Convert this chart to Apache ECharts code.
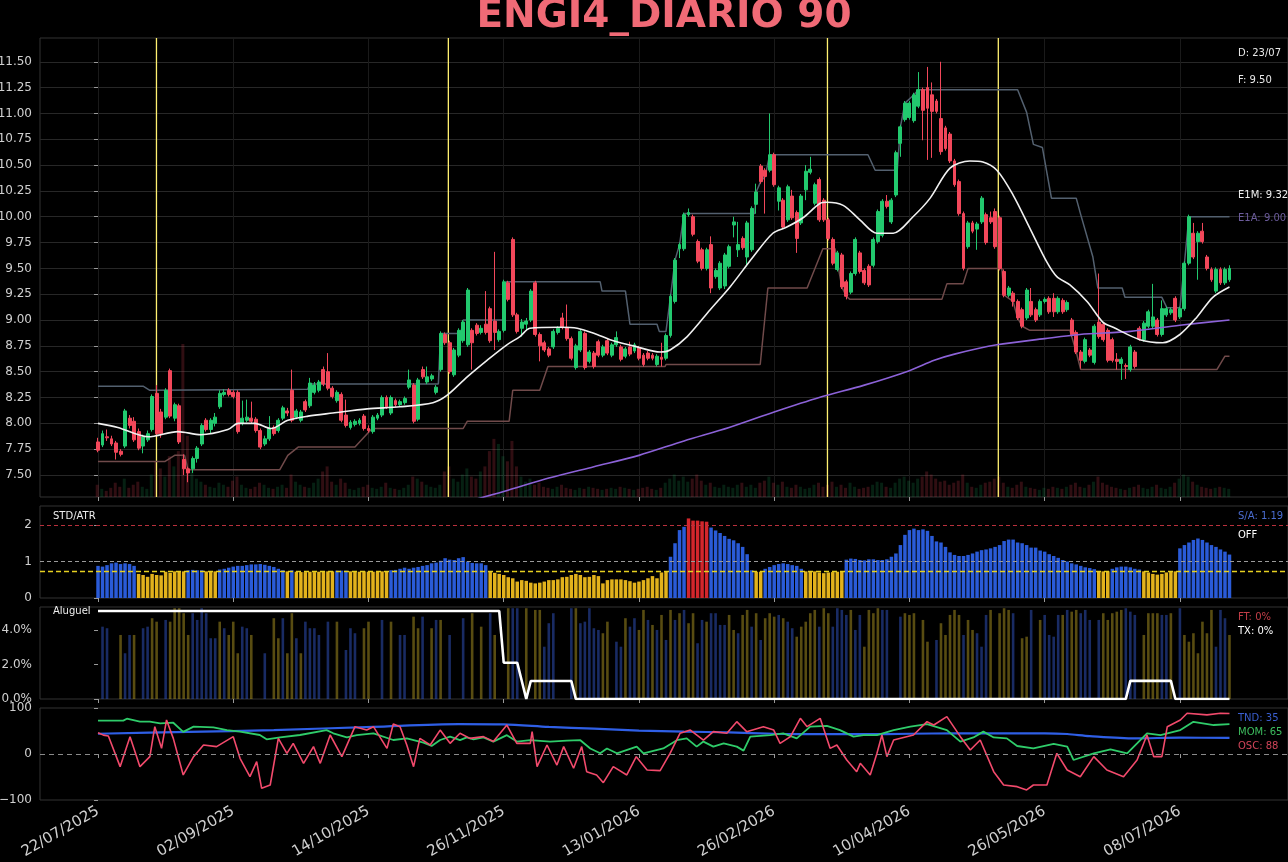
<!DOCTYPE html>
<html><head><meta charset="utf-8">
<script src="https://cdn.jsdelivr.net/npm/echarts@6/dist/echarts.min.js"></script>
<style>html,body{margin:0;padding:0;background:#000;}#c{width:1288px;height:862px;}</style>
</head><body><div id="c"></div>
<script>
// ---------- DATA ----------
const tickIdx = [0,30,60,90,120,150,180,210,240];
const tickLabels = ['22/07/2025','02/09/2025','14/10/2025','26/11/2025','13/01/2026','26/02/2026','10/04/2026','26/05/2026','08/07/2026'];
const priceTicks = [7.5,7.75,8.0,8.25,8.5,8.75,9.0,9.25,9.5,9.75,10.0,10.25,10.5,10.75,11.0,11.25,11.5];
const stdTicks = [0,1,2];
const rentTicks = [0,2,4];
const oscTicks = [-100,0,100];

// [open, close, low, high]
const ohlc = [
[7.82,7.74,7.72,7.86],[7.79,7.90,7.77,7.93],[7.87,7.86,7.83,7.94],[7.85,7.80,7.78,7.88],[7.81,7.72,7.65,7.83],[7.73,7.70,7.68,7.75],[7.78,8.12,7.76,8.14],[8.05,7.98,7.95,8.08],[8.02,7.84,7.82,8.06],[7.92,7.76,7.74,7.95],
[7.78,7.87,7.71,7.89],[7.84,7.90,7.82,7.93],[7.94,8.26,7.92,8.28],[8.29,7.90,7.88,8.37],[8.11,7.90,7.86,8.14],[8.06,8.32,8.04,8.34],[8.51,8.07,8.05,8.53],[8.05,8.18,8.02,8.20],[8.17,7.82,7.80,8.19],[7.65,7.56,7.50,7.70],
[7.56,7.52,7.43,7.58],[7.56,7.66,7.52,7.68],[7.66,7.76,7.62,7.78],[7.80,7.98,7.78,8.00],[8.03,7.94,7.92,8.05],[7.94,8.03,7.90,8.05],[8.00,8.06,7.97,8.10],[8.16,8.29,8.14,8.32],[8.28,8.30,8.26,8.33],[8.32,8.28,8.26,8.34],
[8.30,8.26,8.24,8.32],[8.30,7.92,7.90,8.32],[8.00,8.05,7.98,8.22],[8.03,8.06,8.01,8.23],[8.05,8.02,8.00,8.21],[8.04,7.93,7.91,8.06],[7.93,7.77,7.75,7.95],[7.80,7.85,7.78,7.88],[7.85,7.95,7.83,8.07],[7.96,7.90,7.88,7.98],
[7.93,8.03,7.91,8.05],[8.05,8.15,8.03,8.17],[8.12,8.10,8.07,8.15],[8.32,8.03,8.01,8.52],[8.06,8.12,8.04,8.14],[8.03,8.11,8.01,8.13],[8.21,8.13,8.11,8.23],[8.17,8.39,8.15,8.44],[8.30,8.37,8.28,8.40],[8.32,8.40,8.30,8.42],
[8.52,8.38,8.36,8.55],[8.50,8.34,8.32,8.68],[8.34,8.26,8.24,8.36],[8.22,8.30,8.20,8.32],[8.28,8.03,8.01,8.30],[8.08,7.98,7.96,8.23],[7.96,8.01,7.94,8.03],[7.99,8.02,7.97,8.04],[8.00,8.03,7.98,8.05],[8.07,7.95,7.93,8.09],
[7.95,7.93,7.91,7.98],[7.92,8.06,7.90,8.08],[8.05,8.08,8.03,8.10],[8.08,8.25,8.06,8.27],[8.25,8.16,8.14,8.27],[8.10,8.25,8.08,8.27],[8.22,8.18,8.16,8.24],[8.18,8.21,8.16,8.23],[8.20,8.24,8.18,8.26],[8.35,8.42,8.33,8.52],
[8.37,8.02,8.00,8.39],[8.04,8.42,8.02,8.44],[8.52,8.45,8.43,8.55],[8.40,8.45,8.38,8.55],[8.43,8.46,8.41,8.48],[8.30,8.35,8.28,8.37],[8.52,8.87,8.50,8.89],[8.86,8.78,8.76,8.88],[8.78,8.50,8.48,8.80],[8.47,8.71,8.45,8.73],
[8.66,8.90,8.64,8.92],[8.80,8.98,8.78,9.00],[8.76,9.29,8.74,9.31],[8.90,8.78,8.52,8.92],[8.95,8.87,8.85,8.97],[8.88,8.92,8.86,8.95],[8.96,8.88,8.86,9.28],[9.11,8.80,8.78,9.13],[8.99,8.88,8.71,9.66],[8.81,8.89,8.79,8.91],
[8.90,9.37,8.88,9.39],[9.36,9.20,9.18,9.38],[9.78,9.05,9.03,9.80],[9.05,8.89,8.87,9.07],[8.92,8.98,8.84,9.01],[8.96,8.99,8.90,9.02],[9.00,9.28,8.98,9.30],[9.36,8.86,8.84,9.38],[8.86,8.75,8.60,8.88],[8.78,8.71,8.69,8.80],
[8.72,8.66,8.64,8.74],[8.74,8.89,8.72,8.91],[8.88,8.92,8.86,8.94],[9.02,8.93,8.91,9.07],[8.93,8.82,8.80,9.15],[8.82,8.63,8.61,8.84],[8.54,8.75,8.52,8.77],[8.71,8.89,8.69,8.91],[8.87,8.54,8.52,8.89],[8.60,8.69,8.58,8.71],
[8.68,8.55,8.53,8.70],[8.79,8.66,8.64,8.81],[8.66,8.74,8.64,8.76],[8.80,8.68,8.66,8.82],[8.66,8.76,8.64,8.78],[8.76,8.83,8.74,8.89],[8.74,8.62,8.60,8.76],[8.65,8.72,8.63,8.74],[8.74,8.67,8.65,8.79],[8.70,8.76,8.68,8.78],
[8.73,8.63,8.61,8.75],[8.66,8.57,8.55,8.68],[8.68,8.63,8.61,8.70],[8.66,8.63,8.61,8.68],[8.57,8.65,8.55,8.67],[8.64,8.62,8.55,8.78],[8.63,8.85,8.61,8.87],[8.85,9.23,8.83,9.25],[9.18,9.58,9.16,9.60],[9.69,9.73,9.60,9.75],
[9.69,10.02,9.67,10.04],[10.02,10.04,10.00,10.08],[10.00,9.83,9.81,10.02],[9.76,9.57,9.55,9.78],[9.68,9.50,9.48,9.70],[9.50,9.68,9.48,9.70],[9.73,9.31,9.26,9.81],[9.42,9.48,9.40,9.50],[9.31,9.55,9.29,9.57],[9.33,9.63,9.30,9.65],
[9.52,9.71,9.50,9.73],[9.92,9.95,9.80,10.00],[9.68,9.73,9.61,9.95],[9.79,9.70,9.68,9.81],[9.61,9.94,9.52,9.96],[9.68,10.08,9.66,10.10],[10.12,10.24,10.03,10.32],[10.49,10.34,10.32,10.51],[10.45,10.39,10.03,10.47],[10.45,10.60,10.43,11.00],
[10.60,10.31,10.29,10.62],[10.15,10.28,10.06,10.30],[10.16,9.90,9.88,10.18],[9.97,10.29,9.95,10.31],[10.20,9.99,9.97,10.26],[10.04,9.79,9.65,10.06],[9.94,10.20,9.92,10.22],[10.26,10.44,10.16,10.50],[10.43,10.46,10.41,10.58],[10.13,10.31,10.11,10.33],
[10.36,9.97,9.95,10.38],[10.16,9.97,9.95,10.18],[9.97,9.79,9.77,9.99],[9.78,9.55,9.53,9.80],[9.49,9.65,9.47,9.67],[9.63,9.32,9.30,9.65],[9.37,9.23,9.20,9.39],[9.27,9.45,9.25,9.47],[9.45,9.78,9.43,9.80],[9.65,9.47,9.45,9.67],
[9.48,9.36,9.34,9.50],[9.52,9.34,9.32,9.54],[9.53,9.78,9.51,9.80],[9.76,10.05,9.74,10.07],[9.82,10.15,9.80,10.17],[10.15,10.10,10.08,10.21],[9.95,10.16,9.93,10.18],[10.21,10.62,10.19,10.64],[10.71,10.87,10.58,10.89],[10.94,11.10,10.92,11.12],
[10.96,11.10,10.94,11.12],[10.93,11.18,10.91,11.20],[11.07,11.23,11.05,11.40],[11.23,11.03,10.74,11.25],[11.25,11.05,10.55,11.45],[11.18,11.02,10.57,11.30],[11.12,11.02,11.00,11.14],[10.95,10.63,10.60,11.50],[10.86,10.66,10.64,10.88],[10.80,10.54,10.52,10.82],
[10.54,10.31,10.29,10.56],[10.34,10.03,10.01,10.36],[10.03,9.50,9.48,10.05],[9.71,9.94,9.69,9.96],[9.94,9.86,9.84,9.96],[9.88,9.93,9.68,9.95],[9.95,10.18,9.93,10.20],[10.02,9.75,9.73,10.04],[9.99,9.95,9.93,10.05],[10.05,9.71,9.69,10.08],
[9.99,9.50,9.48,10.01],[9.47,9.24,9.22,9.49],[9.24,9.31,9.22,9.33],[9.26,9.18,9.13,9.28],[9.18,9.02,9.00,9.20],[9.10,8.94,8.92,9.12],[9.02,9.29,9.00,9.31],[9.18,9.05,9.03,9.31],[9.10,9.00,8.98,9.12],[9.05,9.18,9.03,9.20],
[9.18,9.20,9.16,9.22],[9.21,9.08,9.06,9.23],[9.21,9.08,9.03,9.26],[9.08,9.21,9.06,9.23],[9.19,9.08,9.06,9.21],[9.10,9.17,9.08,9.19],[9.00,8.86,8.84,9.02],[8.88,8.69,8.67,8.90],[8.69,8.61,8.53,8.71],[8.60,8.81,8.58,8.83],
[8.71,8.66,8.64,8.73],[8.59,8.94,8.57,8.96],[8.98,8.84,8.82,9.45],[8.96,8.81,8.79,8.98],[8.90,8.61,8.59,8.92],[8.81,8.61,8.59,8.83],[8.62,8.60,8.52,8.68],[8.58,8.62,8.42,8.64],[8.56,8.55,8.43,8.58],[8.52,8.74,8.50,8.76],
[8.69,8.55,8.53,8.71],[8.92,8.82,8.80,8.94],[8.81,8.97,8.79,8.99],[8.94,9.08,8.92,9.10],[8.94,9.03,8.92,9.35],[9.00,8.86,8.84,9.02],[8.86,9.11,8.84,9.19],[9.05,9.11,9.03,9.13],[9.07,9.10,9.05,9.12],[9.21,9.00,8.98,9.23],
[9.03,9.11,9.01,9.13],[9.11,9.55,9.09,9.57],[9.55,10.00,9.53,10.02],[9.84,9.61,9.59,9.94],[9.76,9.84,9.39,9.86],[9.86,9.76,9.74,9.94],[9.61,9.50,9.48,9.63],[9.49,9.39,9.37,9.51],[9.28,9.49,9.26,9.51],[9.49,9.36,9.34,9.51],
[9.36,9.49,9.34,9.51],[9.39,9.50,9.37,9.53]
];

const volume = [
12,8,6,9,14,10,18,9,12,15, 10,8,22,35,28,20,40,30,45,150,
60,25,18,15,12,10,9,14,12,10, 16,20,12,9,8,10,14,12,9,8,
10,12,9,22,15,12,10,9,14,18, 25,30,15,12,18,14,8,7,9,10,
12,9,8,10,14,9,8,7,9,12, 20,18,15,12,10,9,12,25,30,18,
15,22,28,20,18,25,30,45,57,52, 40,35,55,30,20,15,18,12,14,10,
9,8,10,12,9,8,7,9,8,10, 9,8,7,8,9,8,10,9,8,7,
8,9,10,8,7,9,14,18,22,16, 20,15,18,22,16,12,14,10,9,12,
10,9,12,14,10,12,9,14,16,20, 14,12,15,10,9,12,10,8,9,12,
14,10,12,15,10,12,9,14,10,8, 9,10,12,15,14,10,9,14,18,20,
16,14,18,20,25,22,18,15,16,12, 14,16,22,14,10,9,12,14,15,18,
20,14,10,9,12,15,10,9,8,7, 9,8,10,9,8,10,12,14,10,9,
12,15,20,14,12,10,9,8,7,9, 10,12,9,8,10,12,9,8,10,14,
18,22,20,15,12,10,9,8,9,10, 9,8
];

// [index, value]
const e1m = [[0,8.00],[4.4,7.96],[11.1,7.87],[17.7,7.92],[22.8,7.89],[28.8,7.94],[31.1,8.00],[34.8,8.00],[38.4,7.95],[42.1,8.03],[46.6,8.07],[52.1,8.10],[59.7,8.14],[67,8.16],[74.3,8.20],[77.4,8.27],[81.9,8.45],[86.3,8.61],[90.7,8.76],[93.6,8.84],[95.8,8.92],[102.5,8.93],[106.3,8.92],[110.7,8.86],[113.6,8.81],[119.6,8.74],[124.7,8.69],[126.9,8.71],[130.7,8.84],[135.8,9.10],[140.2,9.32],[145.3,9.61],[149.7,9.84],[152.8,9.90],[156.4,9.99],[160.2,10.13],[161.7,10.14],[165.3,10.11],[169,9.97],[172.8,9.84],[176.4,9.84],[180.8,10.00],[184.6,10.18],[189,10.47],[193.4,10.54],[196.3,10.53],[199.4,10.45],[203,10.21],[206.7,9.89],[210.5,9.56],[212.7,9.42],[215.6,9.34],[219.4,9.18],[222.9,8.98],[225.2,8.93],[231.1,8.81],[236.2,8.78],[240,8.86],[243.8,9.03],[247.3,9.22],[251,9.32]];
const e1a = [[80,7.22],[90,7.34],[100,7.47],[110,7.58],[120,7.69],[130,7.83],[140,7.96],[150,8.11],[160,8.25],[170,8.37],[180,8.51],[185.5,8.61],[190,8.67],[199.4,8.76],[210,8.82],[217.8,8.86],[229,8.89],[240,8.95],[251,9.00]];
const upperCh = [[0,8.36],[10,8.36],[11.5,8.32],[46.5,8.33],[47,8.38],[75.5,8.38],[76,8.87],[80.5,8.87],[81,9.0],[90,9.0],[90.6,9.37],[111.4,9.37],[111.8,9.28],[117,9.28],[118,8.96],[124,8.96],[124.5,8.89],[126,8.89],[127,9.23],[128,9.58],[129,9.73],[130,10.03],[145.7,10.03],[146,10.24],[147,10.34],[148,10.39],[149,10.60],[170.8,10.60],[172.4,10.45],[177.3,10.45],[178,10.87],[179,11.10],[181,11.18],[182,11.23],[204,11.23],[206,11.01],[207.5,10.70],[209.5,10.67],[211.5,10.18],[217,10.18],[218,10.02],[220.7,9.61],[221.8,9.31],[227.2,9.31],[227.8,9.22],[236,9.22],[237.1,9.12],[240,9.12],[241,9.55],[242,10.00],[251,10.00]];
const lowerCh = [[0,7.63],[14.8,7.63],[17,7.69],[19.2,7.69],[20,7.55],[40.3,7.55],[42.1,7.69],[44.4,7.77],[57,7.77],[60.8,7.95],[81,7.95],[81.9,8.02],[91.2,8.02],[92,8.32],[98,8.32],[99.8,8.55],[125.8,8.55],[126,8.57],[146.9,8.57],[148.6,9.31],[157.3,9.31],[160.8,9.69],[163.5,9.69],[165,9.32],[166,9.23],[166.8,9.20],[187.2,9.20],[188.3,9.35],[191.9,9.35],[193,9.50],[200.5,9.50],[201,9.24],[203,9.18],[204,9.02],[205,8.94],[206.7,8.90],[215.6,8.90],[217,8.69],[218,8.52],[248.2,8.52],[250,8.65],[251,8.65]];
const eventLines = [12.6, 77.35, 161.45, 199.35];

const stdAtr = [
0.88,0.86,0.90,0.95,0.97,0.93,0.95,0.93,0.88,
0.66,0.63,0.58,0.66,0.63,0.62,0.72,0.69,0.73,0.73,0.73,
0.76,0.77,0.76,0.76,
0.73,0.73,0.73,
0.78,0.80,0.83,0.86,0.88,0.88,0.90,0.92,0.92,0.93,0.91,0.88,0.85,0.80,0.76,
0.73,0.76,
0.72,0.71,0.71,0.72,0.71,0.72,0.73,0.73,0.73,
0.75,0.75,0.75,
0.73,0.72,0.72,0.73,0.72,0.72,0.72,0.73,0.73,
0.76,0.77,0.80,0.83,0.80,0.83,0.85,0.88,0.90,0.95,0.97,1.02,1.09,1.05,1.04,1.09,1.12,1.00,0.96,0.95,0.95,0.90,
0.72,0.69,0.66,0.63,0.57,0.54,0.45,0.49,0.47,0.42,0.40,0.42,0.45,0.49,0.49,0.51,0.57,0.58,0.63,0.66,0.63,0.57,0.58,0.63,0.60,0.40,0.49,0.51,0.51,0.51,0.49,0.46,0.42,0.45,0.49,0.54,0.60,0.54,0.70,0.72,
1.13,1.50,1.86,1.95,
2.18,2.12,2.12,2.10,2.09,
1.93,1.85,1.78,1.70,1.62,1.58,1.50,1.40,1.20,0.76,
0.72,0.72,
0.80,0.85,0.90,0.93,0.95,0.93,0.90,0.88,0.80,
0.73,0.72,0.73,0.70,0.68,0.70,0.71,0.72,0.73,
1.05,1.08,1.07,1.04,1.03,1.06,1.06,1.04,1.04,1.06,1.13,1.22,1.45,1.73,1.86,1.90,1.86,1.88,1.84,1.70,1.55,1.52,1.40,1.25,1.18,1.15,1.15,1.18,1.22,1.27,1.31,1.33,1.36,1.40,1.45,1.56,1.60,1.60,1.52,1.50,1.45,1.38,1.38,1.30,1.27,1.20,1.15,1.10,1.04,1.00,0.95,0.92,0.88,0.84,0.82,0.79,
0.73,0.73,0.73,
0.80,0.84,0.86,0.86,0.84,0.80,0.78,
0.73,0.70,0.66,0.64,0.66,0.70,0.73,0.73,
1.36,1.45,1.52,1.59,1.63,1.59,1.52,1.45,1.40,1.33,1.27,1.19
];
// colour class of each STD/ATR bar, as runs: [class, count]
const stdClassRuns = [['B',9],['Y',11],['B',4],['Y',3],['B',15],['Y',1],['B',1],['Y',9],['B',3],['Y',9],['B',22],['Y',40],['B',4],['R',5],['B',10],['Y',2],['B',9],['Y',9],['B',56],['Y',3],['B',7],['Y',8],['B',12]];

const rentVals = [
0,4.19,4.10,0,0,3.71,2.65,3.71,3.71,0, 4.10,4.19,4.68,4.48,0,4.58,4.48,5.26,5.26,4.97,
3.71,4.97,4.58,5.26,4.97,3.52,3.52,4.48,4.10,3.71, 4.48,2.65,4.19,4.10,3.71,0,0,2.65,0,4.68,
3.52,4.68,2.65,4.97,3.52,2.65,4.48,4.10,4.10,3.71, 0,4.48,0,4.48,0,2.84,4.10,3.81,0,4.10,
4.48,0,0,4.58,0,4.48,0,3.71,3.71,0, 4.77,4.10,4.77,0,4.10,4.58,4.58,0,3.71,0,
0,4.68,0,4.97,0,4.19,0,4.97,3.71,0, 0,5.26,5.26,5.26,0,5.26,0,5.16,5.16,3.03,
4.39,4.97,0,0,0,5.26,5.26,4.39,4.48,5.26, 4.10,4.00,3.81,4.48,0,3.32,3.03,4.68,4.19,4.68,
4.00,5.16,4.58,4.29,4.00,4.87,3.42,5.16,4.58,4.97, 5.16,4.39,4.97,3.23,4.58,4.48,4.97,4.97,4.29,4.29,
4.87,4.00,3.81,4.87,5.16,4.19,4.97,3.42,4.68,4.97, 4.77,4.87,4.68,4.48,4.10,3.61,4.19,4.48,4.97,5.16,
4.19,5.26,4.97,4.19,5.26,5.16,4.87,5.16,4.00,4.87, 3.03,5.16,4.97,5.26,5.16,5.16,0,0,4.77,4.97,
4.87,4.97,0,4.58,3.32,0,3.42,4.39,3.71,4.87, 5.16,4.87,3.71,4.58,4.00,3.81,3.03,4.87,5.16,0,
4.97,5.26,5.16,4.97,0,3.52,3.61,5.16,0,4.58, 4.87,3.71,3.61,4.87,4.87,5.16,5.06,5.16,4.97,5.16,
4.58,0,4.58,4.97,4.58,4.97,5.06,5.16,5.26,5.06, 4.87,0,3.71,4.97,4.97,4.97,4.87,4.87,4.97,0,
5.26,3.71,3.32,3.81,2.65,4.48,3.81,5.16,3.03,5.16, 4.68,3.71
];
const rentClass = "-bb--ybby-bbyy-byyyyybbbbbbybyyybby--b-yybyybybbbb-b-y-bbb-yy--b-y-bb-yyb-yby-b--b-y-y-by--ybb-y-yybbb---bybbbbbyy-bbybbyybybybybybyybbybbbbyybyybybyyybybbyyyyybyybbbbybbyyyybb--byyy-yy-byyyyybyybbby-yyyb-yyb-ybbbbybyybbb-byyyyybbb-yyyybby-byyyyyyybbby";
const rentLine = [[0,5.1],[89,5.1],[90,2.1],[93,2.1],[95,0],[96,1.04],[105,1.04],[106,0],[228,0],[229,1.05],[238,1.05],[239,0],[251,0]];

const tnd = [[0,44],[20,48],[39,52],[61,59],[80,65],[90,64.5],[100,59],[110,55],[120,51],[130,48.6],[140,47],[150,44],[160,43],[170,43],[180,44],[190,45],[200,45],[210,45],[215,43.5],[220,39],[230,34],[240,35.5],[251,35]];
const mom = [[0,72.5],[5.6,72.5],[6.4,76.8],[9.3,70.3],[11.5,70.3],[13.8,66.7],[16.7,68],[18.9,48],[21.2,59.4],[25.6,58],[28.6,52],[31.5,48.6],[35.9,41.3],[37.4,32],[40.4,36.3],[44.8,41.3],[50.7,52],[52.2,45],[55.2,36.3],[57.4,41],[61.1,45],[65.5,30.4],[68.5,34],[72.2,24.7],[74,17.4],[75.9,30.4],[78.1,37.7],[80.3,30],[81.8,36],[83.3,32],[85.5,36],[87.7,27],[90.7,41],[92.9,27],[95.9,30],[100.3,27],[104,29],[107,30],[109.2,12],[111.4,1.5],[112.9,12],[115.1,1.5],[119.5,16],[121,1.5],[125.4,12],[128.4,30],[130.6,34],[132.8,16],[134.3,27],[136.5,16],[138.8,23],[141.7,16],[143.2,7.3],[144.7,37.7],[149.1,41],[152,45],[155,34],[158,59.4],[161.7,61],[164.6,52],[167.6,37.7],[169.8,41],[172.8,41],[176.5,52],[180.2,59.4],[183.9,65],[188.3,52],[191.3,27],[194.2,36],[196.4,48.6],[198.7,36],[201.6,34],[203.9,17.4],[207.5,12],[212,21.8],[215,16],[216.4,-13],[220.9,1.5],[224.6,10],[228.3,1.5],[230.5,23],[232.7,45],[235.7,41],[240.1,52],[243,70],[247.5,63],[251,65]];
const osc = [[0,46.4],[1.2,41],[2.3,39],[4.9,-27.5],[7.1,37.7],[9.3,-27.5],[11.5,-5.8],[12.6,59.4],[14.1,12.3],[15.2,74],[16.7,34],[18.9,-45.6],[21.2,-5.8],[23.4,19.6],[26.3,16],[30,37.7],[31.5,-9.4],[33.7,-49.3],[35.2,-16.7],[36.3,-74.6],[38.2,-67.4],[40,34],[41.9,1.5],[43.3,23.2],[45.6,-20.3],[47.8,16],[49.3,-20.3],[51.5,41.3],[54.1,-5.8],[57,59.4],[59.6,52],[61.1,59.4],[64.1,12.3],[65.5,65.2],[67,59.4],[68.5,19.6],[70,-27.5],[71.4,34],[73.7,19.6],[75.9,52],[78.1,23.2],[80.3,45],[82.5,34],[85.5,37.7],[87.7,27],[90.7,63],[92.9,23],[95.9,23],[96.3,48.6],[97.4,-27.5],[99.6,19.6],[101.8,-24],[103.3,16],[105.5,-31],[107.3,16],[108.4,-38.4],[110.6,-45.6],[112.1,-62.3],[114.3,-27.5],[117.3,-45.6],[119.4,-5.8],[121.8,-34.8],[124.7,-36.2],[126.9,1.5],[129.1,45],[131.4,52],[134.3,30.4],[136.5,48.6],[139.5,45],[141.7,70.3],[143.9,48.6],[147.6,59.4],[149.9,52],[151.3,23.2],[153.6,37.7],[155.8,77.6],[157.3,59.4],[160.2,77.6],[162.4,12.3],[163.9,19.6],[166.1,-13],[168.3,-38.4],[169.1,-20.3],[171.3,-45.6],[172.8,1.5],[173.9,41.3],[175,-5.8],[176.5,30.4],[180.9,41.3],[183.9,70.3],[185.4,63],[188.3,81.2],[191.3,37.7],[193.5,8.7],[195.7,30.4],[198.7,-38.4],[200.9,-67.4],[203.9,-71],[206,-78.2],[207.5,-67.4],[210.5,-67.4],[212.7,1.5],[215,-34.8],[217.9,-49.3],[220.9,-5.8],[223.8,-34.8],[227.5,-49.3],[230.5,-13],[232.7,41.3],[234.2,-5.8],[236,-5.8],[237.2,59.4],[240.1,74],[241.6,88.6],[246,85],[249,88.6],[251,88]];

const lastInfo = {date:'23/07', close:'9.50', e1m:'9.32', e1a:'9.00', sa:'1.19', ft:'0%', tx:'0%', tnd:'35', mom:'65', osc:'88'};

// ---------- BUILD ----------
const FONT = 'DejaVu Sans';
const X_MIN = -12.87, X_MAX = 263.98;
const Y_MIN = 7.287, Y_MAX = 11.73;
const GREEN = '#22c96e', RED = '#f2475a';
const stdClass = [];
stdClassRuns.forEach(([c,n]) => { for (let k=0;k<n;k++) stdClass.push(c); });
const stdColors = {B:'#2a5bd8', Y:'#e2b21c', R:'#d4262c'};
const rentColors = {b:'rgba(55,95,220,0.45)', y:'rgba(195,168,38,0.45)', '-':'rgba(0,0,0,0)'};

const candleData = ohlc.map((r,i) => [i, r[0], r[1], r[2], r[3]]);
const volData = volume.map((v,i) => ({value:[i,v], itemStyle:{color: ohlc[i][1] >= ohlc[i][0] ? 'rgba(40,200,110,0.16)' : 'rgba(240,70,90,0.2)'}}));
const stdData = stdAtr.map((v,i) => ({value:[i,v], itemStyle:{color: stdColors[stdClass[i]]}}));
const rentData = rentVals.map((v,i) => ({value:[i,v], itemStyle:{color: rentColors[rentClass[i]]}}));
const eventData = eventLines.map(v => [v, Y_MAX]);

const grids = [
  {left:40, right:0, top:38, height:459},
  {left:40, right:0, top:506, height:92},
  {left:40, right:0, top:607, height:92},
  {left:40, right:0, top:708, height:92}
].map(g => Object.assign(g, {show:true, borderColor:'#333', borderWidth:1, backgroundColor:'transparent', outerBoundsMode:'none'}));

const xAxes = [0,1,2,3].map(gi => ({
  type:'value', gridIndex:gi, min:X_MIN, max:X_MAX,
  axisLine:{show:false},
  splitLine:{show:false},
  axisTick:{show:true, customValues:tickIdx, length:4, lineStyle:{color:'#999'}},
  axisLabel: gi === 3 ? {show:true, customValues:tickIdx, rotate:30, margin:10, color:'#d0d0d0', fontSize:15, fontFamily:FONT,
      formatter: v => tickLabels[tickIdx.indexOf(Math.round(v))] || ''} : {show:false}
}));

const yLab = {color:'#d0d0d0', fontSize:12, fontFamily:FONT};
function yTick(vals){ return {show:true, customValues:vals, length:4, lineStyle:{color:'#999'}}; }
const yAxes = [
  {type:'value', gridIndex:0, min:Y_MIN, max:Y_MAX, splitLine:{show:false}, axisLine:{show:false},
   axisTick:yTick(priceTicks),
   axisLabel:Object.assign({customValues:priceTicks, formatter:v => v.toFixed(2)}, yLab)},
  {type:'value', gridIndex:0, min:0, max:450, show:false},
  {type:'value', gridIndex:1, min:0, max:2.52, axisLine:{show:false},
   splitLine:{show:false}, axisTick:yTick(stdTicks),
   axisLabel:Object.assign({customValues:stdTicks, formatter:v => String(v)}, yLab)},
  {type:'value', gridIndex:2, min:0, max:5.33, axisLine:{show:false},
   splitLine:{show:false}, axisTick:yTick(rentTicks),
   axisLabel:Object.assign({customValues:rentTicks, formatter:v => v.toFixed(1)+'%'}, yLab)},
  {type:'value', gridIndex:3, min:-100, max:100, axisLine:{show:false},
   splitLine:{show:false}, axisTick:yTick(oscTicks),
   axisLabel:Object.assign({customValues:oscTicks, formatter:v => String(v).replace('-', '\u2212')}, yLab)}
];

const noLbl = {silent:true, symbol:['none','none'], label:{show:false}, animation:false};
const priceGrid = priceTicks.map(v => ({yAxis:v, lineStyle:{color:'#272727', width:1, type:'solid'}}))
  .concat(tickIdx.map(v => ({xAxis:v, lineStyle:{color:'#1a1a1a', width:1, type:'solid'}})));

const series = [
  // background grid lines for price panel
  {type:'line', xAxisIndex:0, yAxisIndex:0, data:[], z:0, silent:true,
   markLine:Object.assign({z:0, data:priceGrid}, noLbl)},
  // volume
  {type:'bar', xAxisIndex:0, yAxisIndex:1, data:volData, barWidth:3, z:1, silent:true, animation:false},
  // event (vertical) lines, drawn as hair-thin full-height bars
  {type:'bar', xAxisIndex:0, yAxisIndex:0, data:eventData, barWidth:1.3, z:1, silent:true, animation:false,
   itemStyle:{color:'#fff070'}},
  // channels
  {type:'line', xAxisIndex:0, yAxisIndex:0, data:upperCh, symbol:'none', z:1, lineStyle:{color:'#53606f', width:1.5}, animation:false},
  {type:'line', xAxisIndex:0, yAxisIndex:0, data:lowerCh, symbol:'none', z:1, lineStyle:{color:'#704a4a', width:1.5}, animation:false},
  // candles
  {type:'candlestick', xAxisIndex:0, yAxisIndex:0, data:candleData, encode:{x:0, y:[1,2,3,4]}, barWidth:3.4, z:2,
   itemStyle:{color:GREEN, color0:RED, borderColor:GREEN, borderColor0:RED, borderWidth:1}, animation:false},
  // moving averages
  {type:'line', xAxisIndex:0, yAxisIndex:0, data:e1a, symbol:'none', smooth:0.3, z:4, lineStyle:{color:'#8c62d8', width:1.6}, animation:false},
  {type:'line', xAxisIndex:0, yAxisIndex:0, data:e1m, symbol:'none', smooth:0.3, z:4, lineStyle:{color:'#f0f0f0', width:1.6}, animation:false},
  // STD/ATR
  {type:'bar', xAxisIndex:1, yAxisIndex:2, data:stdData, barWidth:3.5, z:2, animation:false,
   markLine:Object.assign({data:[
     {yAxis:2, lineStyle:{color:'#b8303c', type:[4,3], width:1}},
     {yAxis:1, lineStyle:{color:'#9a9a9a', type:[4,3], width:1}},
     {yAxis:0.74, lineStyle:{color:'#e6d020', type:[5,3], width:1.3}}]}, noLbl)},
  // Aluguel
  {type:'bar', xAxisIndex:2, yAxisIndex:3, data:rentData, barWidth:2.6, z:2, animation:false},
  {type:'line', xAxisIndex:2, yAxisIndex:3, data:rentLine, symbol:'none', z:3, lineStyle:{color:'#ffffff', width:2.6}, animation:false},
  // Oscillators
  {type:'line', xAxisIndex:3, yAxisIndex:4, data:tnd, symbol:'none', smooth:0.3, z:3, lineStyle:{color:'#2f5fe6', width:2.2}, animation:false,
   markLine:Object.assign({data:[{yAxis:0, lineStyle:{color:'#8a8a8a', type:[5,4], width:1}}]}, noLbl)},
  {type:'line', xAxisIndex:3, yAxisIndex:4, data:mom, symbol:'none', z:3, lineStyle:{color:'#2fcc6a', width:1.8}, animation:false},
  {type:'line', xAxisIndex:3, yAxisIndex:4, data:osc, symbol:'none', z:4, lineStyle:{color:'#f24a6c', width:1.6}, animation:false}
];

function txt(x, y, s, color) {
  return {type:'text', x:x, y:y, z:100, silent:true,
    style:{text:s, fill:color, font:'10px "DejaVu Sans"', verticalAlign:'middle', align:'left'}};
}
const graphics = [
  {type:'text', x:664, y:17, z:100, silent:true,
   style:{text:'ENGI4_DIARIO 90', fill:'#f06a76', font:'bold 39px "DejaVu Sans"', align:'center', verticalAlign:'middle'}},
  txt(1238, 53, 'D: ' + lastInfo.date, '#e8e8e8'),
  txt(1238, 80, 'F: ' + lastInfo.close, '#e8e8e8'),
  txt(1238, 195, 'E1M: ' + lastInfo.e1m, '#eeeeee'),
  txt(1238, 218, 'E1A: ' + lastInfo.e1a, '#6c5c9c'),
  txt(53, 516, 'STD/ATR', '#eeeeee'),
  txt(1238, 516, 'S/A: ' + lastInfo.sa, '#4a6cd0'),
  txt(1238, 535, 'OFF', '#ffffff'),
  txt(53, 611, 'Aluguel', '#eeeeee'),
  txt(1238, 617, 'FT: ' + lastInfo.ft, '#c23e48'),
  txt(1238, 631, 'TX: ' + lastInfo.tx, '#ffffff'),
  txt(1238, 718, 'TND: ' + lastInfo.tnd, '#3a5ecf'),
  txt(1238, 732, 'MOM: ' + lastInfo.mom, '#3dbd5e'),
  txt(1238, 746, 'OSC: ' + lastInfo.osc, '#cf4458')
];

const chart = echarts.init(document.getElementById('c'), null, {renderer:'canvas'});
chart.setOption({
  backgroundColor:'#000000',
  animation:false,
  grid:grids, xAxis:xAxes, yAxis:yAxes, series:series, graphic:graphics
});
</script>
</body></html>
